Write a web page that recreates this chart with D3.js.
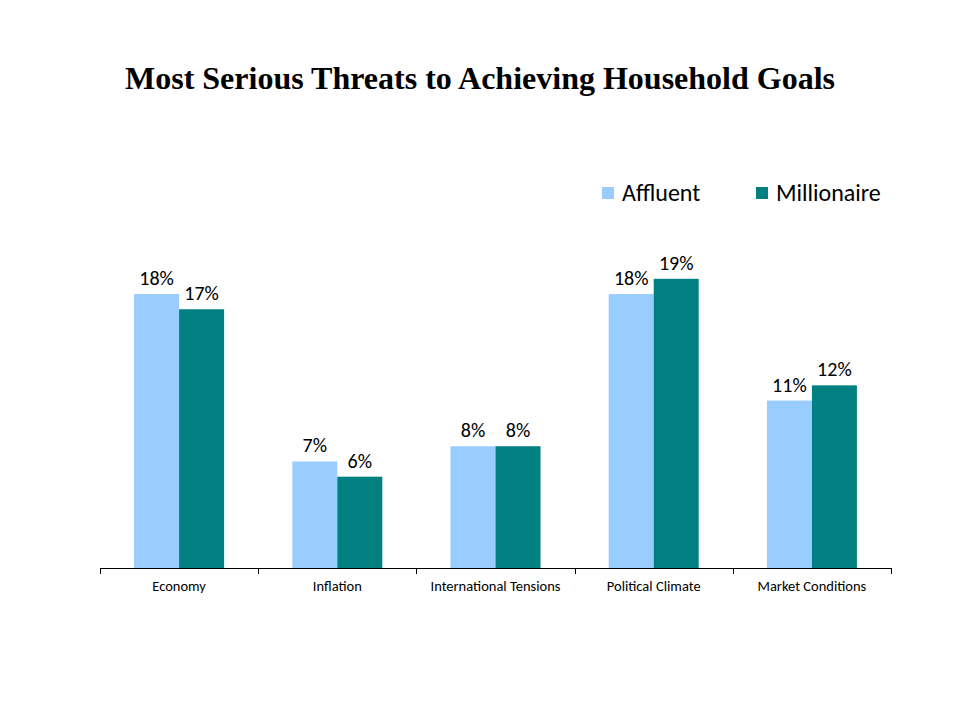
<!DOCTYPE html>
<html><head><meta charset="utf-8">
<script src="https://cdn.jsdelivr.net/npm/d3@7"></script>
<style>body{margin:0;background:#fff}</style>
</head><body>
<script>
const categories = ["Economy","Inflation","International Tensions","Political Climate","Market Conditions"];
const seriesNames = ["Affluent","Millionaire"];
const affluent = [18,7,8,18,11];
const millionaire = [17,6,8,19,12];
const colors = ["#99CCFF","#008080"];

const W=960,H=720;
const FONT="Carlito, Lato, sans-serif";
const svg=d3.select("body").append("svg").attr("width",W).attr("height",H);
svg.append("rect").attr("width",W).attr("height",H).attr("fill","#fff");

svg.append("text").attr("x",480).attr("y",89).attr("text-anchor","middle")
  .attr("font-family","Liberation Serif, Times New Roman, serif").attr("font-weight","bold")
  .attr("font-size",32).attr("fill","#000").text("Most Serious Threats to Achieving Household Goals");

const x=d3.scaleBand().domain(categories).range([100,891]);
const inner=d3.scaleBand().domain(seriesNames).range([0,90]);
const y=d3.scaleLinear().domain([0,20]).range([568,568-15.22*20]);

const g=svg.append("g");
const data=categories.map((c,i)=>({c,vals:[affluent[i],millionaire[i]]}));
const grp=g.selectAll("g.cat").data(data).join("g")
  .attr("transform",d=>`translate(${x(d.c)+x.bandwidth()/2-45},0)`);
grp.selectAll("rect").data(d=>d.vals.map((v,j)=>({v,s:seriesNames[j],j}))).join("rect")
  .attr("x",d=>inner(d.s)).attr("width",inner.bandwidth())
  .attr("y",d=>y(d.v)).attr("height",d=>y(0)-y(d.v)).attr("fill",d=>colors[d.j]);
grp.selectAll("text").data(d=>d.vals.map((v,j)=>({v,s:seriesNames[j],j}))).join("text")
  .attr("x",d=>inner(d.s)+inner.bandwidth()/2).attr("y",d=>y(d.v)-9)
  .attr("text-anchor","middle").attr("font-family",FONT)
  .attr("font-size",20).attr("fill","#000").text(d=>d.v+"%");

const ax=svg.append("g").attr("transform","translate(0,568)")
  .call(d3.axisBottom(x).tickSize(0).tickSizeOuter(0));
ax.select(".domain").attr("stroke","#000").attr("d","M100.5,0.5H891.5");
ax.selectAll(".tick text").attr("font-family",FONT).attr("font-size",14.5).attr("fill","#000").attr("dy",0).attr("y",23);
const bounds=[...categories.map(c=>x(c)),891];
ax.selectAll("line.sep").data(bounds).join("line").attr("class","sep")
  .attr("x1",d=>Math.round(d)+0.5).attr("x2",d=>Math.round(d)+0.5).attr("y1",0).attr("y2",6).attr("stroke","#000");

const leg=svg.append("g");
const legX=[602,756];
seriesNames.forEach((s,i)=>{
  leg.append("rect").attr("x",legX[i]).attr("y",187).attr("width",12).attr("height",12).attr("fill",colors[i]);
  leg.append("text").attr("x",legX[i]+20).attr("y",201).attr("font-family",FONT)
    .attr("font-size",24).attr("fill","#000").text(s);
});
</script>
</body></html>
